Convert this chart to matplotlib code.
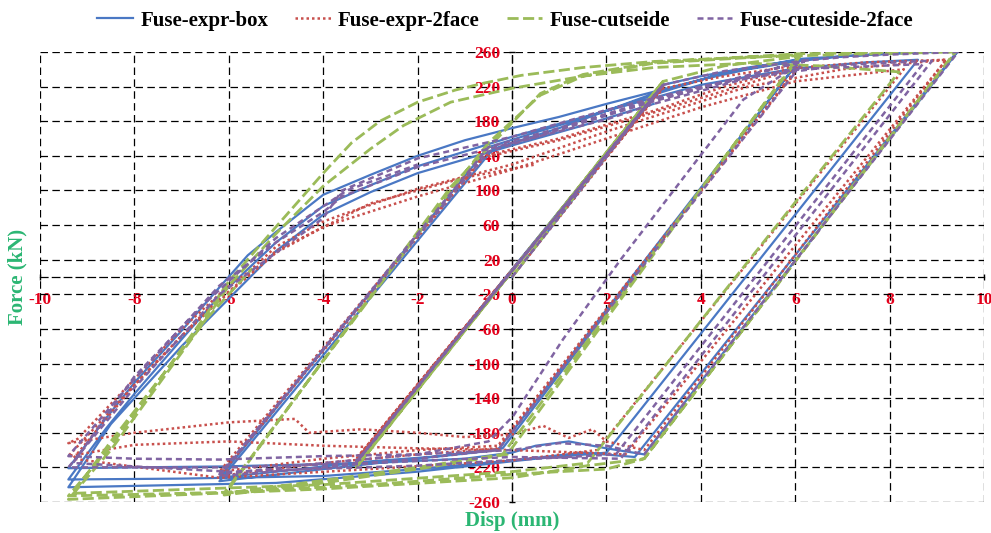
import matplotlib.pyplot as plt
import numpy as np

# dados (deslocamento em mm, forca em kN)
box_disp = [0, 3.2, -3.3, 3.2, -3.3, 3.2, 4.0, 5.0, 6.1,
            -0.3, -1.5, -3.0, -4.5, -6.2,
            -0.5, 0.5, 2.0, 3.2, 4.5, 6.1,
            -0.2, -2.0, -4.0, -6.2,
            -0.4, 1.0, 3.0, 4.5, 6.1, 7.0, 8.0, 9.45,
            2.8, 2.0, 1.2, 0.5, 0.0, -1.0, -3.0, -6.2, -8.0, -9.4,
            -8.7, -8.0, -7.0, -6.2, -5.6, -5.0, -4.0, -3.0, -2.0, -1.0, 0.0, 1.0, 2.0, 3.0, 4.0, 5.0, 6.0, 7.0, 8.0, 9.45,
            2.6, 1.5, 0.0, -2.0, -4.0, -7.0, -9.4,
            -8.6, -8.0, -7.0, -6.2, -5.0, -4.0, -3.0, -2.0, 0.0, 2.0, 4.0, 6.0, 7.5, 8.6,
            2.0, 0.5, -2.0, -5.0, -9.4,
            -8.5, -8.0, -7.0, -6.0, -5.0, -4.0, -3.0, -2.0, 0.0, 1.5, 3.0]
box_force = [0, 222, -213, 224, -215, 222, 232, 242, 251,
             -200, -207, -213, -222, -232,
             150, 167, 192, 214, 236, 251,
             -198, -210, -222, -236,
             148, 172, 212, 236, 252, 255, 258, 261,
             -205, -198, -190, -195, -203, -210, -215, -219, -220, -221,
             -170, -122, -62, -12, 25, 52, 95, 118, 140, 158, 172, 185, 200, 214, 228, 240, 249, 255, 258, 262,
             -208, -203, -212, -222, -230, -233, -234,
             -175, -135, -72, -22, 40, 82, 106, 128, 162, 192, 222, 241, 248, 251,
             -203, -210, -225, -238, -243,
             -170, -140, -80, -25, 30, 72, 98, 120, 152, 175, 200]

face_disp = [0, 3.2, -3.3, 3.2, -3.3, 3.2, 4.5, 6.1,
             -0.3, -2.0, -4.0, -6.2,
             -0.6, 1.0, 3.0, 4.5, 6.1,
             -0.3, -2.0, -4.0, -6.2, -0.6, 1.0, 3.0, 6.1, 7.5, 9.2,
             2.8, 2.0, 1.7, 1.2, 0.66, 0.0, -1.0, -2.0, -3.2, -4.3, -4.6, -6.0, -8.0, -9.4,
             -9.2, -8.0, -7.0, -6.0, -5.6, -5.0, -4.0, -3.6, -2.0, 0.0, 2.0, 3.14, 5.0, 7.0, 9.2,
             2.4, 1.0, 0.0, -2.0, -4.0, -6.0, -8.0, -9.4,
             -8.0, -7.0, -6.0, -5.0, -4.0, -2.0, 0.0, 2.0, 4.0, 6.0, 8.3,
             1.8, 0.0, -3.0, -6.2, -9.3,
             -8.0, -6.5, -5.0, -3.0, -1.0, 0.5]
face_force = [0, 220, -210, 220, -212, 218, 232, 245,
              -195, -200, -210, -225,
              140, 160, 192, 220, 244,
              -198, -205, -215, -230, 138, 158, 190, 242, 248, 251,
              -200, -190, -176, -186, -172, -182, -185, -180, -176, -180, -164, -168, -180, -192,
              -187, -118, -60, -10, 5, 35, 64, 72, 102, 130, 168, 188, 220, 240, 251,
              -205, -202, -200, -198, -195, -190, -194, -207,
              -125, -68, -18, 28, 58, 93, 124, 160, 196, 226, 240,
              -200, -212, -222, -232, -210,
              -125, -40, 30, 85, 115, 130]

cut_disp = [0, 3.2, -3.3, 3.2, -3.3, 3.2, 4.5, 6.1,
            -0.2, -2.0, -4.0, -6.1,
            -1.3, -0.5, 0.6, 1.5, 3.0, 6.1,
            -0.1, -2.0, -4.0, -6.1, -1.3, 0.6, 1.5, 3.0, 6.1, 7.5, 9.4,
            2.8, 2.0, 0.0, -3.0, -6.2, -9.4,
            -8.5, -7.46, -6.5, -6.0, -5.0, -4.0, -3.4, -2.8, -2.0, -1.2, -0.6, 0.2, 1.5, 3.0, 5.0, 7.0, 9.4,
            2.8, 1.6, 0.0, -4.0, -9.4,
            -8.5, -7.5, -6.5, -6.0, -5.0, -4.0, -3.0, -2.3, -1.3, 0.0, 1.5, 3.0, 5.0, 6.5, 8.2,
            1.6, 0.0, -4.0, -9.3,
            -8.5, -7.5, -6.5, -5.5]
cut_force = [0, 225, -218, 226, -220, 226, 244, 255,
             -205, -220, -235, -250,
             100, 155, 210, 232, 247, 257,
             -205, -222, -238, -252, 104, 212, 234, 248, 258, 259, 261,
             -210, -222, -228, -240, -249, -253,
             -195, -118, -45, -5, 58, 120, 155, 180, 202, 216, 224, 233, 242, 249, 254, 257, 260,
             -210, -218, -232, -245, -257,
             -200, -125, -50, -10, 50, 105, 148, 175, 202, 218, 232, 242, 247, 244, 237,
             -215, -225, -240, -250,
             -190, -120, -50, 10]

cut2_disp = [0, 3.2, -3.3, 3.2, -3.3, 3.2, 4.5, 6.2,
             -0.3, -2.0, -4.0, -6.2,
             -0.5, 1.0, 3.0, 6.2,
             4.9, 2.3, 1.08, 0.02, -0.5, -2.0, -4.0, -6.2,
             -0.5, 1.0, 3.0, 6.2, 7.0, 8.0, 9.45,
             2.8, 2.0, 1.0, 0.0, -2.0, -4.0, -6.2, -8.0, -9.4,
             -8.0, -7.0, -6.2, -5.0, -4.0, -3.6, -2.0, 0.0, 2.0, 3.0, 5.0, 7.0, 8.9,
             2.3, 0.0, -3.0, -6.0, -9.4,
             -8.0, -6.2, -4.0, -3.6, -2.0, 0.0, 2.0, 4.0, 6.0, 8.7,
             2.2, 0.5, -2.0, -6.0, -9.3,
             -8.0, -6.5, -5.0, -3.5, -2.0]
cut2_force = [0, 222, -214, 222, -214, 222, 238, 250,
              -200, -210, -220, -230,
              150, 172, 205, 250,
              205, 20, -72, -161, -190, -205, -215, -228,
              145, 170, 203, 250, 254, 257, 260,
              -205, -195, -192, -200, -205, -207, -211, -210, -207,
              -118, -58, -10, 40, 75, 93, 127, 155, 182, 200, 230, 245, 250,
              -210, -208, -215, -220, -220,
              -128, -20, 68, 100, 137, 162, 193, 220, 240, 246,
              -205, -210, -218, -225, -215,
              -115, -30, 45, 100, 130]


def main():
    # rotulos com hifen simples, como no original
    plt.rcParams['axes.unicode_minus'] = False

    fig = plt.figure(figsize=(9.91, 5.33), dpi=100)
    ax = fig.add_axes([0.0404, 0.0582, 0.9526, 0.8443])

    # curvas histereticas
    ax.plot(box_disp, box_force, color='#4a78c4', lw=1.6, label='Fuse-expr-box')
    ax.plot(face_disp, face_force, color='#c8504d', lw=1.8, linestyle=(0, (1, 1.2)),
            label='Fuse-expr-2face')
    ax.plot(cut_disp, cut_force, color='#9bbb59', lw=2.0, linestyle=(0, (4, 1.6)),
            label='Fuse-cutseide')
    ax.plot(cut2_disp, cut2_force, color='#8064a2', lw=1.8, linestyle=(0, (2.4, 1.6)),
            label='Fuse-cuteside-2face')

    ax.set_xlim(-10, 10)
    ax.set_ylim(-260, 260)
    ax.set_xticks(np.arange(-10, 11, 2))
    ax.set_yticks(np.arange(-260, 261, 40))

    # eixos passando pela origem
    for lado in ['top', 'right']:
        ax.spines[lado].set_visible(False)
    ax.spines['left'].set_position(('data', 0))
    ax.spines['bottom'].set_position(('data', 0))
    for lado in ['left', 'bottom']:
        ax.spines[lado].set_linestyle((0, (6, 3.5)))
        ax.spines[lado].set_linewidth(0.9)
        ax.spines[lado].set_zorder(0.5)

    ax.grid(True, color='black', lw=0.9, linestyle=(0, (6, 3.5)), zorder=0)
    ax.set_axisbelow(True)

    fonte = {'family': 'Liberation Serif', 'weight': 'bold'}
    ax.tick_params(direction='inout', length=5, width=1, colors='black',
                   labelcolor='#e3001b', labelsize=12.5)
    ax.tick_params(axis='x', pad=8)
    ax.tick_params(axis='y', pad=6)
    for rotulo in ax.get_xticklabels() + ax.get_yticklabels():
        rotulo.set_fontfamily('Liberation Serif')
        rotulo.set_fontweight('bold')

    fig.text(0.018, 0.48, 'Force (kN)', rotation=90, ha='center', va='center',
             color='#2bb673', fontsize=15, **fonte)
    fig.text(0.517, 0.022, 'Disp (mm)', ha='center', va='center',
             color='#2bb673', fontsize=15, **fonte)

    fig.legend(loc='upper center', bbox_to_anchor=(0.51, 1.015), ncol=4, frameon=False,
               prop={'family': 'Liberation Serif', 'weight': 'bold', 'size': 15},
               handlelength=1.7, columnspacing=1.3, handletextpad=0.35)

    fig.savefig('out.png', dpi=100, facecolor='white')


if __name__ == "__main__":
    main()
